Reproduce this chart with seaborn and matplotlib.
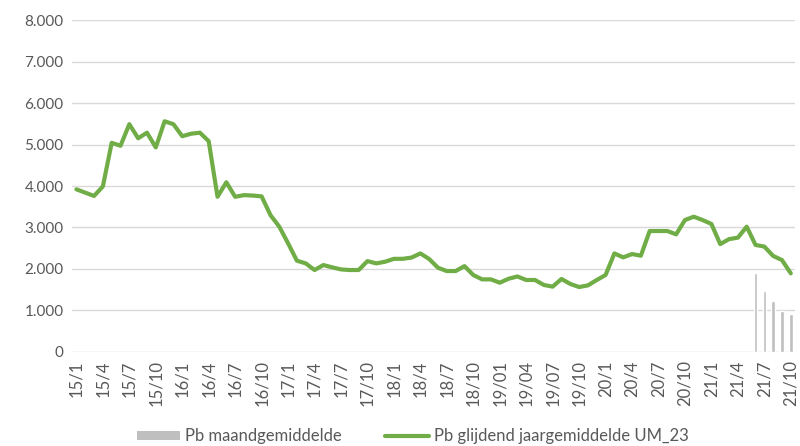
import matplotlib
matplotlib.use('Agg')
import matplotlib.pyplot as plt
from matplotlib.lines import Line2D
from matplotlib.patches import Patch
import numpy as np
import pandas as pd
import seaborn as sns

TICK_LABELS = ['15/1', '15/4', '15/7', '15/10', '16/1', '16/4', '16/7', '16/10',
               '17/1', '17/4', '17/7', '17/10', '18/1', '18/4', '18/7', '18/10',
               '19/01', '19/04', '19/07', '19/10', '20/1', '20/4', '20/7', '20/10',
               '21/1', '21/4', '21/7', '21/10']

# Pb glijdend jaargemiddelde UM_23, one value per month 15/1 .. 21/10
rolling_avg = [3920, 3840, 3760, 3990, 5040, 4970, 5490, 5150, 5285, 4930,
               5560, 5490, 5200, 5260, 5285, 5080, 3740, 4090, 3740, 3780,
               3770, 3750, 3300, 3020, 2620, 2200, 2135, 1975, 2095, 2040,
               1990, 1975, 1975, 2190, 2135, 2175, 2245, 2245, 2275, 2375,
               2240, 2030, 1950, 1950, 2070, 1855, 1750, 1750, 1670, 1765,
               1820, 1735, 1735, 1615, 1575, 1760, 1640, 1565, 1605, 1735,
               1855, 2375, 2280, 2360, 2320, 2915, 2915, 2915, 2835, 3180,
               3260, 3180, 3085, 2600, 2720, 2755, 3020, 2580, 2540, 2315,
               2215, 1895]

# Pb maandgemiddelde (only the last five months: 21/6 .. 21/10)
monthly_avg = [1900, 1480, 1240, 990, 920]

GREEN = '#70AD47'
GREY_BAR = '#BFBFBF'
TEXT = '#595959'
GRID = '#D9D9D9'
YTICK_FONTSIZE = 11
XTICK_FONTSIZE = 12
LEGEND_FONTSIZE = 12

sns.set_style('white')
plt.rcParams['font.family'] = ['Lato', 'DejaVu Sans']

n = len(rolling_avg)
line_df = pd.DataFrame({'idx': np.arange(n), 'value': rolling_avg})
bar_df = pd.DataFrame({'idx': [n - len(monthly_avg) + i for i in range(len(monthly_avg))],
                       'value': monthly_avg})

fig = plt.figure(figsize=(8, 4.46), dpi=100)
ax = fig.add_axes([0.09, 0.2108, 0.904, 0.7443])

sns.barplot(data=bar_df, x='idx', y='value', native_scale=True, width=0.4,
            color=GREY_BAR, saturation=1, ax=ax)
sns.lineplot(data=line_df, x='idx', y='value', color=GREEN, linewidth=3,
             ax=ax)

ax.set_xlim(-0.5, n - 0.5)
ax.set_ylim(0, 8000)
ax.set_yticks(range(0, 8001, 1000))
ax.set_yticklabels(['{:,}'.format(v).replace(',', '.') for v in range(0, 8001, 1000)],
                   fontsize=YTICK_FONTSIZE, color=TEXT)
ax.set_xticks(range(0, n, 3))
ax.set_xticklabels(TICK_LABELS, rotation=90, fontsize=XTICK_FONTSIZE, color=TEXT)
ax.tick_params(axis='both', length=0, pad=6)
ax.set_xlabel('')
ax.set_ylabel('')
ax.grid(axis='y', color=GRID, linewidth=1)
ax.set_axisbelow(True)
for side in ['top', 'right', 'left', 'bottom']:
  ax.spines[side].set_visible(False)

handles = [Patch(facecolor=GREY_BAR, edgecolor='none'),
           Line2D([0], [0], color=GREEN, linewidth=3)]
fig.legend(handles, ['Pb maandgemiddelde', 'Pb glijdend jaargemiddelde UM_23'],
           loc='center', bbox_to_anchor=(0.516, 0.022), ncol=2, frameon=False,
           fontsize=LEGEND_FONTSIZE, labelcolor=TEXT, handlelength=2.6,
           handleheight=0.5, columnspacing=2.6, handletextpad=0.3)

fig.savefig('out.png', dpi=100)
